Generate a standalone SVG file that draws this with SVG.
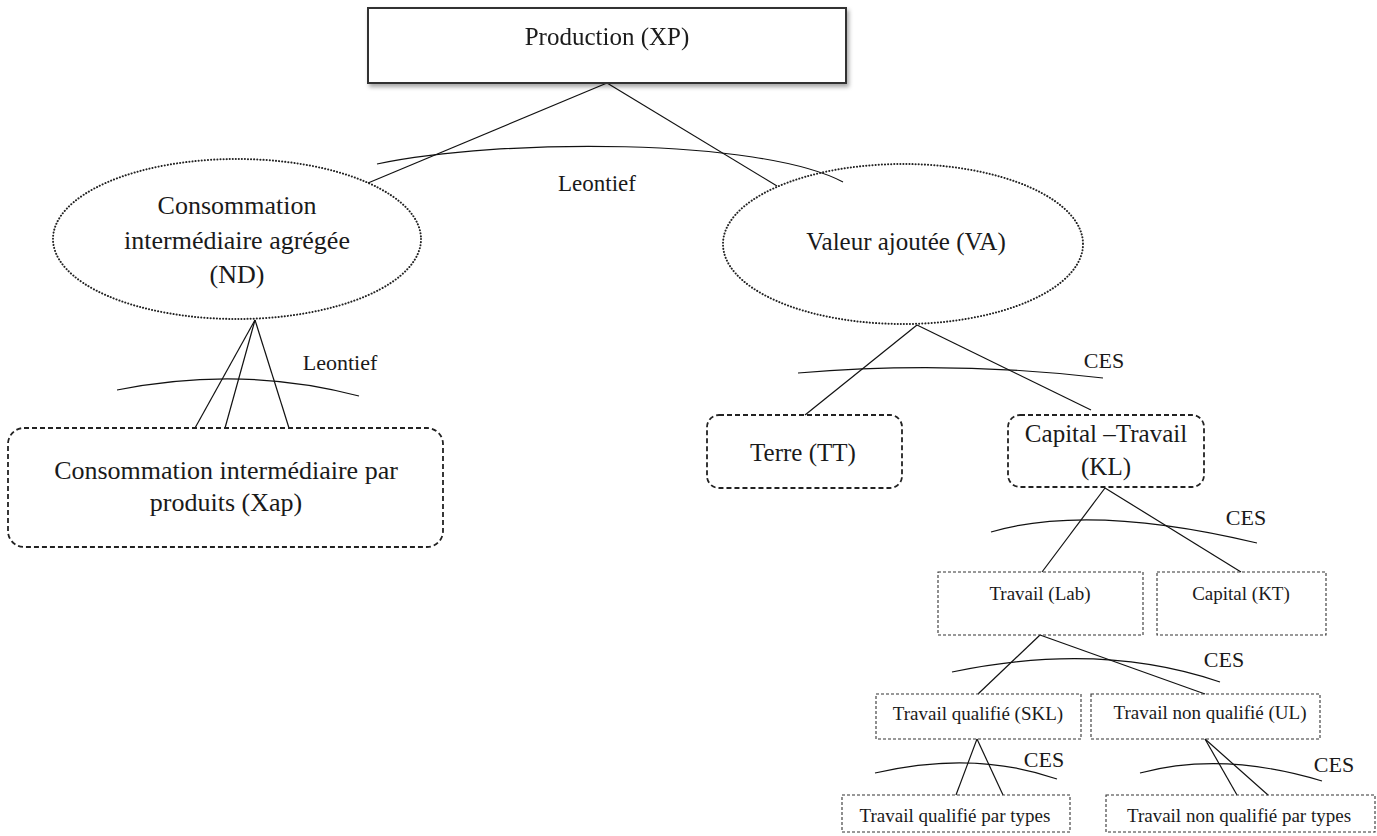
<svg xmlns="http://www.w3.org/2000/svg" width="1377" height="836" viewBox="0 0 1377 836" font-family="'Liberation Serif', 'Times New Roman', 'DejaVu Serif', serif">
<defs>
<filter id="shadow" x="-10%" y="-20%" width="120%" height="150%">
<feDropShadow dx="2" dy="3" stdDeviation="2" flood-color="#000" flood-opacity="0.35"/>
</filter>
</defs>
<style>
text{fill:#1a1a1a;text-anchor:middle}
.big{font-size:25px}
.mid{font-size:26px}
.sm{font-size:19px}
.lbl{font-size:22px}
.solid{fill:#fff;stroke:#333;stroke-width:2}
.dot{fill:none;stroke:#222;stroke-width:2;stroke-dasharray:0.1 3;stroke-linecap:round}
.dash{fill:none;stroke:#222;stroke-width:1.8;stroke-dasharray:5 3}
.thin{fill:none;stroke:#333;stroke-width:1.1;stroke-dasharray:3 2}
.ln{fill:none;stroke:#111;stroke-width:1.2}
</style>
<rect width="1377" height="836" fill="#fff"/>
<g id="connectors">
<line class="ln" x1="607" y1="83" x2="368" y2="183"/>
<line class="ln" x1="607" y1="83" x2="777" y2="186"/>
<path class="ln" d="M377,164 C500,138 760,138 843,182"/>
<line class="ln" x1="255" y1="320" x2="195" y2="428"/>
<line class="ln" x1="255" y1="320" x2="225" y2="428"/>
<line class="ln" x1="255" y1="320" x2="289" y2="428"/>
<path class="ln" d="M117,390 Q242,365 359,396"/>
<line class="ln" x1="917" y1="325" x2="805" y2="415"/>
<line class="ln" x1="917" y1="325" x2="1091" y2="410"/>
<path class="ln" d="M798,373 Q950,360 1103,378"/>
<line class="ln" x1="1105" y1="488" x2="1042" y2="572"/>
<line class="ln" x1="1105" y1="488" x2="1241" y2="572"/>
<path class="ln" d="M991,532 Q1090,503 1257,543"/>
<line class="ln" x1="1040" y1="635" x2="978" y2="694"/>
<line class="ln" x1="1040" y1="635" x2="1205" y2="694"/>
<path class="ln" d="M952,672 Q1100,641 1220,682"/>
<line class="ln" x1="977" y1="739" x2="956" y2="795"/>
<line class="ln" x1="977" y1="739" x2="1003" y2="795"/>
<path class="ln" d="M875,773 Q974,750 1057,779"/>
<line class="ln" x1="1205" y1="739" x2="1237" y2="795"/>
<line class="ln" x1="1205" y1="739" x2="1268" y2="795"/>
<path class="ln" d="M1140,773 Q1223,751 1322,781"/>
<text class="lbl" x="597" y="191" style="font-size:23px">Leontief</text>
<text class="lbl" x="340" y="370">Leontief</text>
<text class="lbl" x="1104" y="368">CES</text>
<text class="lbl" x="1246" y="525">CES</text>
<text class="lbl" x="1224" y="667">CES</text>
<text class="lbl" x="1044" y="767">CES</text>
<text class="lbl" x="1334" y="772">CES</text>
</g>
<g id="node-xp" filter="url(#shadow)">
<rect class="solid" x="368" y="8" width="478" height="75"/>
<text class="big" x="607" y="45">Production (XP)</text>
</g>
<g id="node-nd">
<ellipse class="dot" cx="237" cy="239" rx="184" ry="80"/>
<text class="mid" x="237" y="214">Consommation</text>
<text class="mid" x="237" y="249">intermédiaire agrégée</text>
<text class="mid" x="237" y="283">(ND)</text>
</g>
<g id="node-va">
<ellipse class="dot" cx="903" cy="244" rx="180" ry="80"/>
<text class="big" x="906" y="250">Valeur ajoutée (VA)</text>
</g>
<g id="node-xap">
<rect class="dash" x="8" y="428" width="435" height="119" rx="16"/>
<text class="mid" x="226" y="479">Consommation intermédiaire par</text>
<text class="mid" x="226" y="511">produits (Xap)</text>
</g>
<g id="node-tt">
<rect class="dash" x="707" y="415" width="195" height="73" rx="12"/>
<text class="big" x="803" y="461">Terre (TT)</text>
</g>
<g id="node-kl">
<rect class="dash" x="1008" y="415" width="196" height="72" rx="12"/>
<text class="big" x="1106" y="442">Capital –Travail</text>
<text class="big" x="1106" y="475">(KL)</text>
</g>
<g id="node-lab">
<rect class="thin" x="938" y="572" width="205" height="63"/>
<text class="sm" x="1040" y="600">Travail (Lab)</text>
</g>
<g id="node-kt">
<rect class="thin" x="1157" y="572" width="169" height="63"/>
<text class="sm" x="1241" y="600">Capital (KT)</text>
</g>
<g id="node-skl">
<rect class="thin" x="876" y="694" width="205" height="45"/>
<text class="sm" x="978" y="720">Travail qualifié (SKL)</text>
</g>
<g id="node-ul">
<rect class="thin" x="1091" y="694" width="229" height="45"/>
<text class="sm" x="1210" y="719">Travail non qualifié (UL)</text>
</g>
<g id="node-skl-types">
<rect class="thin" x="842" y="795" width="228" height="37"/>
<text class="sm" x="955" y="822">Travail qualifié par types</text>
</g>
<g id="node-ul-types">
<rect class="thin" x="1106" y="795" width="269" height="37"/>
<text class="sm" x="1239" y="822">Travail non qualifié par types</text>
</g>
</svg>
